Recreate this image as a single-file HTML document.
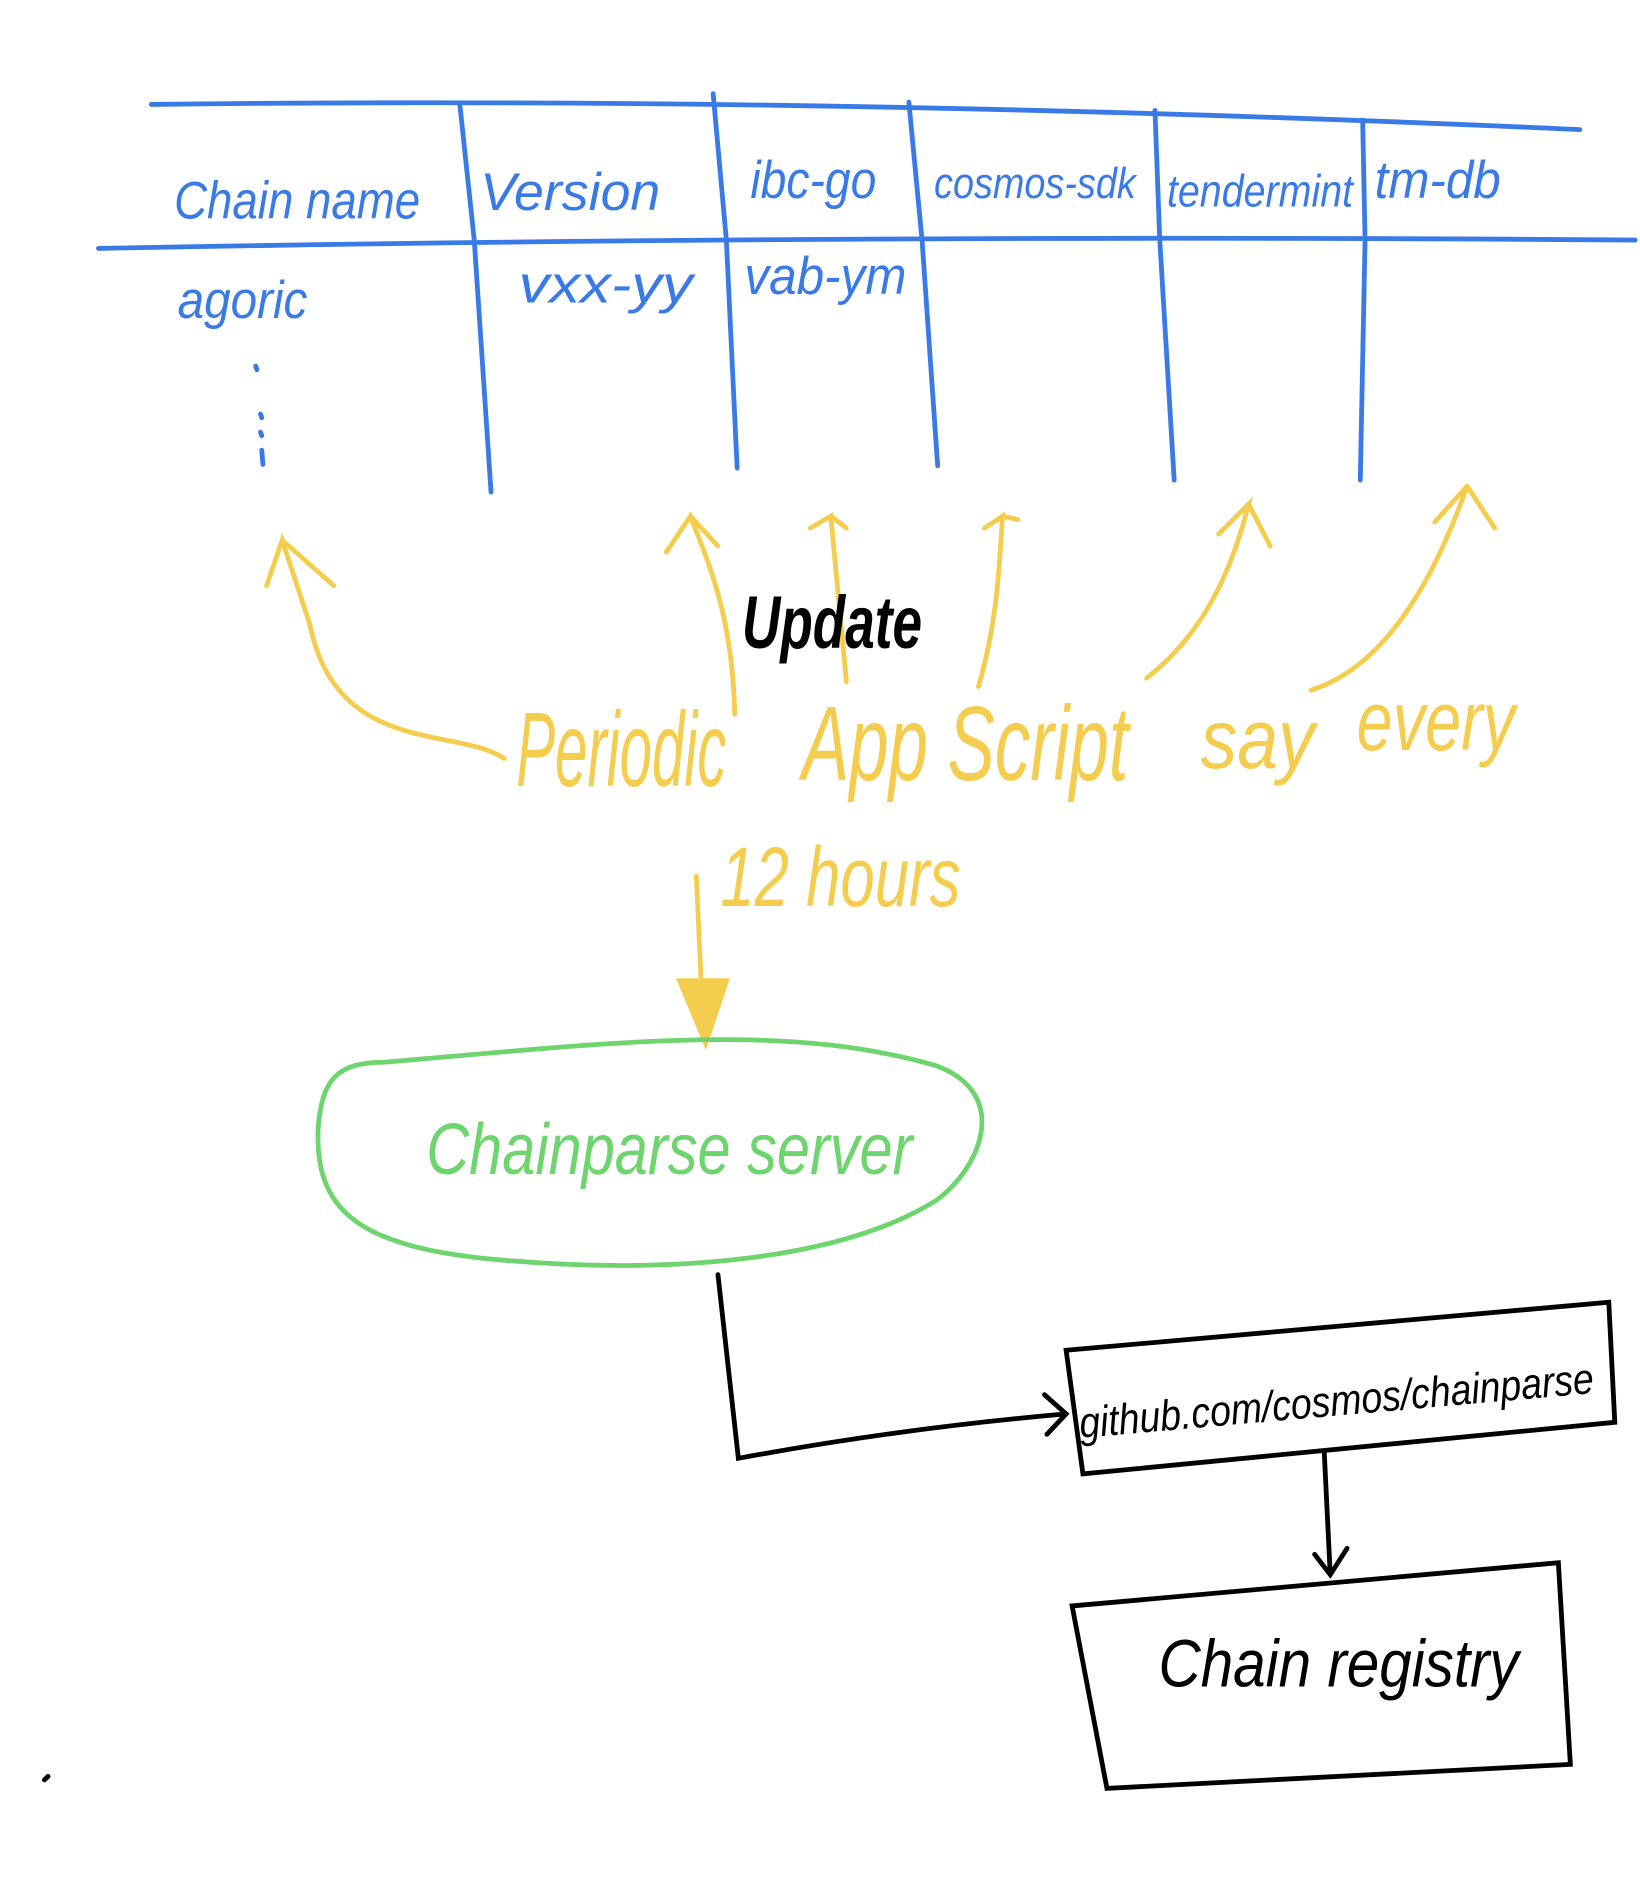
<!DOCTYPE html>
<html><head><meta charset="utf-8"><style>
html,body{margin:0;padding:0;background:#fff;}
svg{display:block}
text{font-family:"Liberation Sans",sans-serif;font-style:italic}
</style></head><body>
<svg width="1640" height="1882" viewBox="0 0 1366 1568" preserveAspectRatio="none" xmlns="http://www.w3.org/2000/svg">
<rect width="1366" height="1568" fill="#fff"/>
<g fill="none" stroke="#3a7ae6" stroke-width="4" stroke-linecap="round">
<path d="M126 87 Q700 80 1316 108"/>
<path d="M82 207 Q700 195 1362 200"/>
<path d="M383 87 L395 200 L409 410"/>
<path d="M594 78 L605 200 L614 390"/>
<path d="M757 85 L768 200 L781 388"/>
<path d="M962 92 L966 200 L978 400"/>
<path d="M1135 100 L1137 200 L1133 400"/>
<path d="M213 305 l1 3 M217 345 l1 3 M217 360 l1 3 M218 375 l1 12"/>
</g>
<g fill="#3a7ae6" font-size="44">
<text x="145" y="182" textLength="205" lengthAdjust="spacingAndGlyphs">Chain name</text>
<text x="400" y="175" textLength="150" lengthAdjust="spacingAndGlyphs">Version</text>
<text x="625" y="165" textLength="105" lengthAdjust="spacingAndGlyphs">ibc-go</text>
<text x="778" y="165" textLength="168" lengthAdjust="spacingAndGlyphs" font-size="36">cosmos-sdk</text>
<text x="972" y="172" textLength="155" lengthAdjust="spacingAndGlyphs" font-size="38">tendermint</text>
<text x="1145" y="165" textLength="105" lengthAdjust="spacingAndGlyphs">tm-db</text>
<text x="148" y="265" textLength="108" lengthAdjust="spacingAndGlyphs">agoric</text>
<text x="432" y="252" textLength="145" lengthAdjust="spacingAndGlyphs">vxx-yy</text>
<text x="620" y="245" textLength="135" lengthAdjust="spacingAndGlyphs">vab-ym</text>
</g>
<g fill="none" stroke="#f5cd4e" stroke-width="4" stroke-linecap="round">
<path d="M420 632 C380 605 280 630 258 520 L235 450 L222 488 M235 450 L278 488"/>
<path d="M612 595 C610 520 595 480 575 430 L555 460 M575 430 L598 455"/>
<path d="M705 568 L692 430 L675 440 M692 430 L705 440"/>
<path d="M815 572 C830 520 832 480 835 430 L820 440 M835 430 L848 433"/>
<path d="M955 565 C1000 530 1025 480 1040 420 L1015 445 M1040 420 L1058 455"/>
<path d="M1092 575 C1140 560 1185 510 1222 405 L1195 435 M1222 405 L1245 440"/>
<path d="M580 730 L585 840"/>
</g>
<path d="M563 815 L608 815 L588 875 Z" fill="#f5cd4e"/>
<g fill="#f5cd4e" font-size="88">
<text x="430" y="655" textLength="175" lengthAdjust="spacingAndGlyphs">Periodic</text>
<text x="668" y="650" textLength="272" lengthAdjust="spacingAndGlyphs">App Script</text>
<text x="1000" y="640" textLength="95" lengthAdjust="spacingAndGlyphs" font-size="70">say</text>
<text x="1130" y="625" textLength="132" lengthAdjust="spacingAndGlyphs" font-size="70">every</text>
<text x="600" y="755" textLength="200" lengthAdjust="spacingAndGlyphs" font-size="70">12 hours</text>
</g>
<text x="618" y="540" font-size="62" font-weight="bold" fill="#000" textLength="150" lengthAdjust="spacingAndGlyphs">Update</text>
<path d="M320 885 C500 870 650 850 780 888 C840 910 820 970 780 1000 C700 1050 560 1062 420 1050 C300 1040 262 1010 265 940 C268 900 280 885 320 885 Z" fill="none" stroke="#6dd46e" stroke-width="4"/>
<text x="355" y="978" font-size="60" fill="#6dd46e" textLength="405" lengthAdjust="spacingAndGlyphs">Chainparse  server</text>
<g fill="none" stroke="#000" stroke-width="4" stroke-linecap="round">
<path d="M598 1062 L615 1215 Q750 1190 888 1178 M870 1162 L888 1178 L872 1195"/>
<path d="M888 1125 L1340 1085 L1345 1185 L902 1228 Z"/>
<path d="M1103 1210 L1108 1312 M1095 1295 L1108 1312 L1122 1290"/>
<path d="M893 1338 L1298 1302 L1308 1470 L922 1490 Z"/>
<path d="M37 1483 l3 -3"/>
</g>
<text x="900" y="1198" font-size="36" fill="#000" textLength="430" lengthAdjust="spacingAndGlyphs" transform="rotate(-5 900 1198)">github.com/cosmos/chainparse</text>
<text x="965" y="1405" font-size="56" fill="#000" textLength="300" lengthAdjust="spacingAndGlyphs">Chain registry</text>
</svg>
</body></html>
